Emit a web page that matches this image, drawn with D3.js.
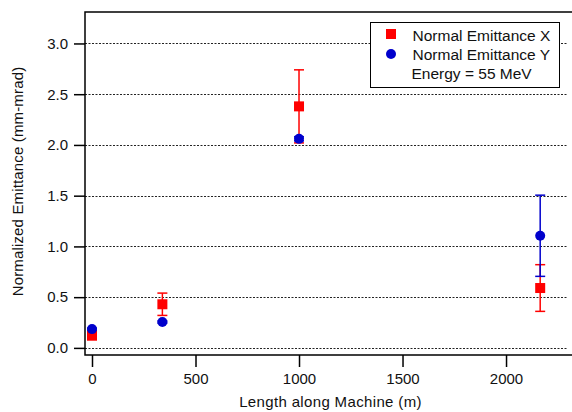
<!DOCTYPE html>
<html>
<head>
<meta charset="utf-8">
<script src="https://cdn.jsdelivr.net/npm/d3@7"></script>
<style>
   body { margin: 0; background: white; }
   svg { font-family: "Liberation Sans", Arial, sans-serif; }
</style>
</head>
<body>
<div id="chart"></div>
<script>
// Données
const positions = [0, 340, 1000, 2165]
const emittanceX = [0.12, 0.43, 2.38, 0.59]
const erreurX = [0.01, 0.11, 0.36, 0.23]
const emittanceY = [0.185, 0.255, 2.06, 1.105]
const erreurY = [0.01, 0.01, 0.02, 0.40]
const yTicks = [0, 0.5, 1, 1.5, 2, 2.5, 3]
const xTicks = [0, 500, 1000, 1500, 2000]
const legende = ["Normal Emittance X", "Normal Emittance Y", "Energy = 55 MeV"]

const largeur = 572, hauteur = 412
const gauche = 85, droite = 570, haut = 12, bas = 355
const rouge = "#ff0000", bleu = "#0000cc"

const svg = d3.select("#chart")
   .append("svg")
   .attr("width", largeur)
   .attr("height", hauteur)

const x = d3.scaleLinear().domain([-33.8, 2309]).range([gauche, droite])
const y = d3.scaleLinear().domain([-0.07, 3.31]).range([bas, haut])

// Grille pointillée
svg.append("g")
   .selectAll("line")
   .data(yTicks)
   .join("line")
   .attr("x1", gauche)
   .attr("x2", 567)
   .attr("y1", d => Math.round(y(d)) + 0.5)
   .attr("y2", d => Math.round(y(d)) + 0.5)
   .attr("stroke", "#222")
   .attr("stroke-width", 1)
   .attr("stroke-dasharray", "2,1.5")

// Axe Y
const axeY = svg.append("g")
   .attr("transform", `translate(${gauche},0)`)
   .call(d3.axisLeft(y).tickValues(yTicks).tickSize(11).tickPadding(6).tickFormat(d3.format(".1f")))
axeY.select(".domain").remove()
axeY.selectAll("line").attr("stroke", "#000").attr("stroke-width", 1.5)
axeY.selectAll("text").attr("font-size", 15).attr("fill", "#111")
   .attr("font-family", "Liberation Sans, Arial, sans-serif")

// Axe X
const axeX = svg.append("g")
   .attr("transform", `translate(0,${bas})`)
   .call(d3.axisBottom(x).tickValues(xTicks).tickSize(12).tickPadding(6).tickFormat(d3.format("d")))
axeX.select(".domain").remove()
axeX.selectAll("line").attr("stroke", "#000").attr("stroke-width", 1.5)
axeX.selectAll("text").attr("font-size", 15).attr("fill", "#111")
   .attr("font-family", "Liberation Sans, Arial, sans-serif")

// Cadre : gauche, haut, bas
svg.append("path")
   .attr("d", `M${largeur},${haut} L${gauche},${haut} L${gauche},${bas} L${largeur},${bas}`)
   .attr("fill", "none")
   .attr("stroke", "#000")
   .attr("stroke-width", 1.5)

// Titres des axes
svg.append("text")
   .attr("x", 330.5)
   .attr("y", 407)
   .attr("text-anchor", "middle")
   .attr("font-size", 15)
   .attr("letter-spacing", 0.35)
   .attr("fill", "#111")
   .text("Length along Machine (m)")

svg.append("text")
   .attr("transform", "translate(23,181.5) rotate(-90)")
   .attr("text-anchor", "middle")
   .attr("font-size", 15)
   .attr("letter-spacing", 0.15)
   .attr("fill", "#111")
   .text("Normalized Emittance (mm-mrad)")

// Barres d'erreur
function barresErreur(valeurs, erreurs, couleur) {
   const g = svg.append("g").attr("stroke", couleur).attr("stroke-width", 1.5)
   positions.forEach((p, i) => {
      const cx = x(p)
      const y1 = y(valeurs[i] + erreurs[i]), y2 = y(valeurs[i] - erreurs[i])
      g.append("line").attr("x1", cx).attr("x2", cx).attr("y1", y1).attr("y2", y2)
      g.append("line").attr("x1", cx - 5).attr("x2", cx + 5).attr("y1", y1).attr("y2", y1)
      g.append("line").attr("x1", cx - 5).attr("x2", cx + 5).attr("y1", y2).attr("y2", y2)
   })
}

barresErreur(emittanceX, erreurX, rouge)
barresErreur(emittanceY, erreurY, bleu)

// Carrés rouges (X)
svg.append("g")
   .selectAll("rect")
   .data(positions)
   .join("rect")
   .attr("x", (d, i) => x(d) - 5)
   .attr("y", (d, i) => y(emittanceX[i]) - 5)
   .attr("width", 10)
   .attr("height", 10)
   .attr("fill", rouge)

// Ronds bleus (Y)
svg.append("g")
   .selectAll("circle")
   .data(positions)
   .join("circle")
   .attr("cx", d => x(d))
   .attr("cy", (d, i) => y(emittanceY[i]))
   .attr("r", 5)
   .attr("fill", bleu)

// Légende
const leg = svg.append("g")
leg.append("rect")
   .attr("x", 370.5)
   .attr("y", 22.5)
   .attr("width", 189)
   .attr("height", 65)
   .attr("fill", "white")
   .attr("stroke", "#000")
   .attr("stroke-width", 1)
leg.append("rect")
   .attr("x", 386).attr("y", 29).attr("width", 10).attr("height", 10)
   .attr("fill", rouge)
leg.append("circle")
   .attr("cx", 391).attr("cy", 54).attr("r", 5)
   .attr("fill", bleu)
leg.selectAll("text")
   .data(legende)
   .join("text")
   .attr("x", (d, i) => i < 2 ? 412.5 : 411.5)
   .attr("y", (d, i) => [40.5, 59.8, 79.2][i])
   .attr("font-size", 15.5)
   .attr("fill", "#111")
   .text(d => d)
</script>
</body>
</html>
